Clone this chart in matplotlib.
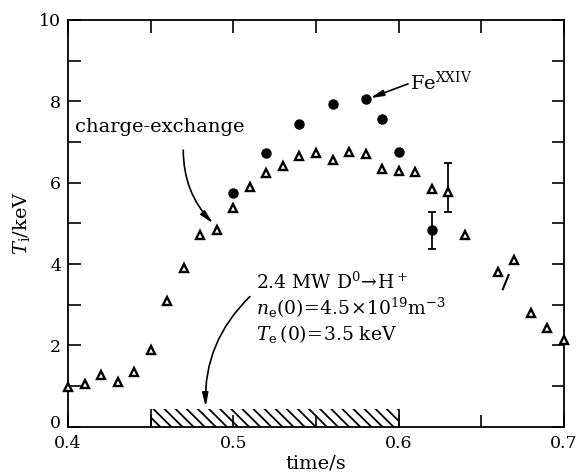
import matplotlib
matplotlib.use('Agg')
import matplotlib.pyplot as plt
from matplotlib.ticker import MultipleLocator, FixedLocator
from matplotlib.transforms import ScaledTranslation

# ---- data ----
cx_time = [0.40, 0.41, 0.42, 0.43, 0.44, 0.45, 0.46, 0.47, 0.48, 0.49,
           0.50, 0.51, 0.52, 0.53, 0.54, 0.55, 0.56, 0.57, 0.58, 0.59,
           0.60, 0.61, 0.62, 0.63, 0.64, 0.66, 0.67, 0.68, 0.69, 0.70]
cx_Ti = [0.98, 1.05, 1.27, 1.10, 1.34, 1.89, 3.10, 3.90, 4.71, 4.84,
         5.37, 5.90, 6.25, 6.42, 6.66, 6.74, 6.56, 6.76, 6.70, 6.33,
         6.29, 6.26, 5.84, 5.78, 4.71, 3.80, 4.10, 2.80, 2.42, 2.13]

fe_time = [0.50, 0.52, 0.54, 0.56, 0.58, 0.59, 0.60, 0.62]
fe_Ti = [5.74, 6.74, 7.44, 7.93, 8.05, 7.56, 6.76, 4.84]

cx_err_time = [0.63]
cx_err_Ti = [5.78]
cx_err_lo = [0.49]
cx_err_hi = [0.71]

fe_err_time = [0.62]
fe_err_Ti = [4.84]
fe_err_lo = [0.48]
fe_err_hi = [0.45]

slash_time = [0.663, 0.6665]
slash_Ti = [3.38, 3.73]

beam_start = 0.45
beam_end = 0.60
beam_height = 0.43

x_ticks = [0.4, 0.5, 0.6, 0.7]
x_ticklabels = ['0.4', '0.5', '0.6', '0.7']
y_ticks = [0, 2, 4, 6, 8, 10]
y_ticklabels = ['0', '2', '4', '6', '8', '10']

# ---- style ----
plt.rcParams['font.family'] = ['DejaVu Serif']
plt.rcParams['mathtext.fontset'] = 'dejavuserif'
plt.rcParams['hatch.linewidth'] = 1.3

fig = plt.figure(figsize=(5.77, 4.76), dpi=100)
ax = fig.add_axes([68/577, 1 - 426.7/476, (564 - 68)/577, (426.7 - 20)/476])

# hatched beam bar
ax.bar([(beam_start + beam_end) / 2], [beam_height], width=beam_end - beam_start,
       bottom=0, fill=False, hatch='\\\\\\', edgecolor='k', linewidth=0)
ax.vlines([beam_start, beam_end], 0, beam_height, colors='k', lw=1.2)

# charge-exchange triangles
ax.plot(cx_time, cx_Ti, linestyle='none', marker='^', ms=6.3, mew=1.7,
        mfc='white', mec='k', clip_on=False, zorder=4)
ax.errorbar(cx_err_time, cx_err_Ti, yerr=[cx_err_lo, cx_err_hi], fmt='none',
            ecolor='k', elinewidth=1.3, capsize=3, capthick=1.3, zorder=3)

# Fe XXIV circles
ax.plot(fe_time, fe_Ti, linestyle='none', marker='o', ms=6.5,
        mfc='k', mec='k', zorder=4)
ax.errorbar(fe_err_time, fe_err_Ti, yerr=[fe_err_lo, fe_err_hi], fmt='none',
            ecolor='k', elinewidth=1.3, capsize=3, capthick=1.3, zorder=3)

# slash mark
ax.plot(slash_time, slash_Ti, color='k', lw=1.5)

# axes
ax.set_xlim(0.4, 0.7)
ax.set_ylim(0, 10)
ax.xaxis.set_major_locator(FixedLocator(x_ticks))
ax.set_xticklabels(x_ticklabels)
ax.yaxis.set_major_locator(FixedLocator(y_ticks))
ax.set_yticklabels(y_ticklabels)
ax.xaxis.set_minor_locator(MultipleLocator(0.05))
ax.yaxis.set_minor_locator(MultipleLocator(1))
ax.tick_params(which='both', direction='in', top=True, right=True,
               length=9, width=1.2, labelsize=12.5)
ax.tick_params(axis='x', pad=6)
ax.tick_params(axis='y', pad=5)
for s in ax.spines.values():
    s.set_linewidth(1.3)

# lift the "0" label on the y axis slightly, as in the reference
for lab in ax.get_yticklabels():
    if lab.get_text() == '0':
        lab.set_transform(lab.get_transform() + ScaledTranslation(0, 4/72, fig.dpi_scale_trans))

ax.set_xlabel('time/s', fontsize=14, labelpad=2)
ax.set_ylabel(r'$T_{\rm i}$/keV', fontsize=14, labelpad=5)

# annotations
ap = dict(arrowstyle='-|>,head_length=0.8,head_width=0.18', lw=1.2,
          color='k', shrinkA=0, shrinkB=0)
ax.annotate('', xy=(0.4877, 5.0), xytext=(0.4697, 6.8),
            arrowprops=dict(ap, connectionstyle='arc3,rad=0.2'))
ax.text(0.4042, 7.37, 'charge-exchange', fontsize=14, va='center', ha='left')

ax.annotate('', xy=(0.5827, 8.08), xytext=(0.6057, 8.43), arrowprops=dict(ap))
ax.text(0.6069, 8.28, r'Fe$^{\rm XXIV}$', fontsize=14, va='baseline', ha='left')

ax.annotate('', xy=(0.4833, 0.49), xytext=(0.510, 3.2),
            arrowprops=dict(ap, connectionstyle='arc3,rad=0.22'))
ax.text(0.5138, 3.38, r'2.4 MW D$^0\!\rightarrow\!$H$^+$', fontsize=13.5,
        va='baseline', ha='left')
ax.text(0.5138, 2.75, r'$n_{\rm e}(0)\!=\!4.5\!\times\!10^{19}{\rm m}^{-3}$',
        fontsize=13.5, va='baseline', ha='left')
ax.text(0.5138, 2.13, r'$T_{\rm e}\,(0)\!=\!3.5$ keV', fontsize=13.5,
        va='baseline', ha='left')

fig.savefig('out.png', dpi=100)
